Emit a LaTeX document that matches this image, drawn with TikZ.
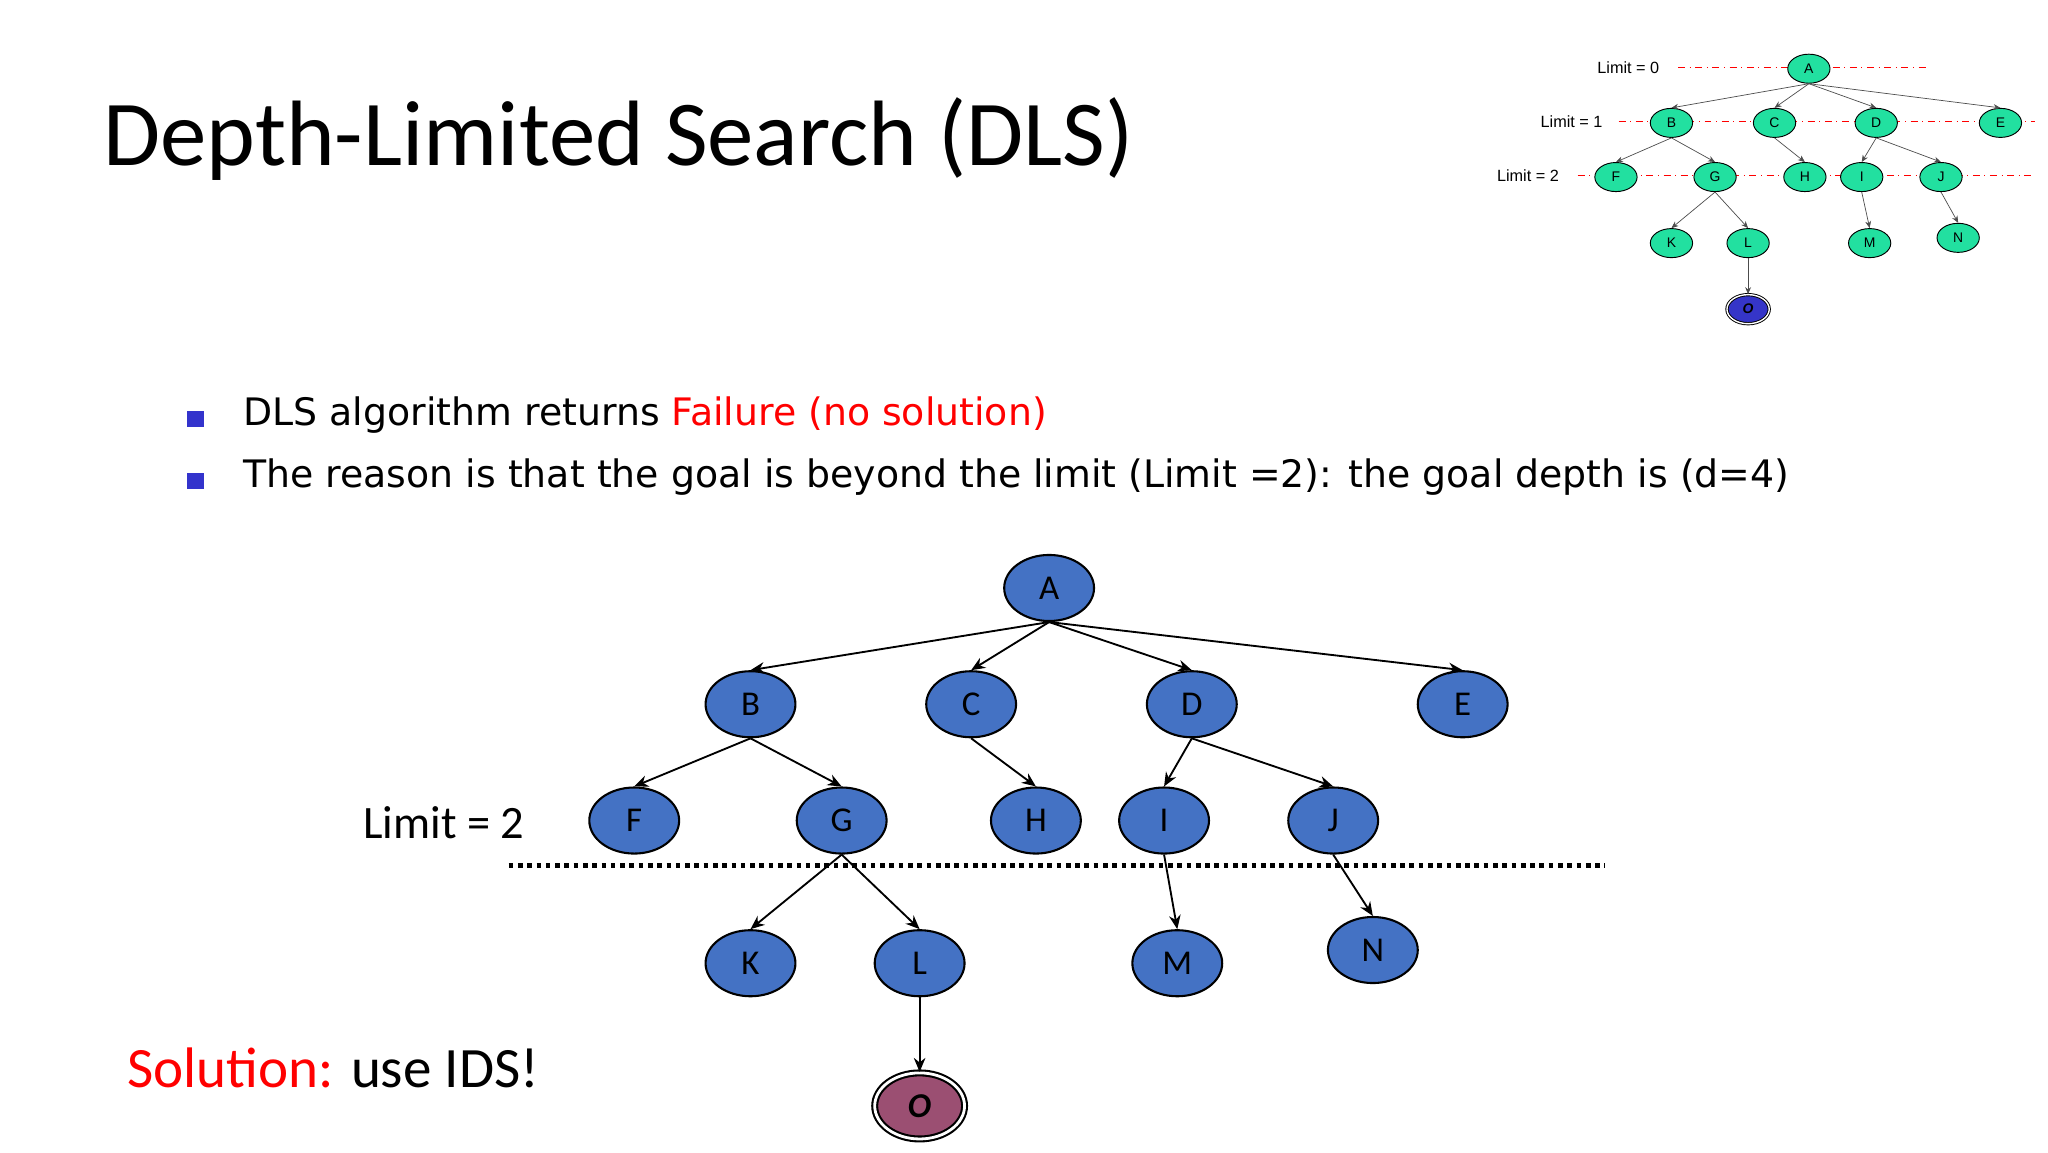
\documentclass[tikz,border=0pt]{standalone}
\usepackage{fontspec}
\setmainfont{Carlito}
\newfontfamily\bulletfont{DejaVu Sans}
\newfontfamily\arialfont{Liberation Sans}
\usetikzlibrary{arrows.meta}
\usetikzlibrary{shapes.geometric}
\definecolor{nodeblue}{HTML}{4472C4}
\definecolor{goalred}{HTML}{9B4F72}
\definecolor{smallgreen}{HTML}{22E0A0}
\definecolor{smallgoal}{HTML}{3535C8}
\definecolor{bulletblue}{HTML}{3333CC}
\definecolor{failred}{HTML}{FF0000}

\begin{document}
\begin{tikzpicture}[x=0.02cm, y=-0.02cm,
    bignode/.style={ellipse, draw, line width=0.9pt, fill=nodeblue,
        minimum width=68*0.02cm, minimum height=50*0.02cm, inner sep=0pt,
        font=\fontsize{15}{17}\selectfont},
    smallnode/.style={ellipse, draw, line width=0.4pt, fill=smallgreen,
        minimum width=32*0.02cm, minimum height=22*0.02cm, inner sep=0pt,
        font=\arialfont\fontsize{6}{7}\selectfont},
    bigedge/.style={-{Stealth[length=6pt,width=5pt]}, line width=0.8pt},
    smalledge/.style={-{Stealth[length=3pt,width=2.5pt]}, line width=0.3pt, black!70},
    limitline/.style={red, dash dot, line width=0.5pt},
    limitlbl/.style={anchor=east, font=\arialfont\fontsize{7}{8}\selectfont}
]

    \useasboundingbox[fill=white] (0,0) rectangle (1550,872);

    % Title
    \node[anchor=west, font=\fontsize{40}{46}\selectfont] (title) at (72,105) {Depth-Limited Search (DLS)};

    % Bullets
    \node[fill=bulletblue, minimum size=7pt, inner sep=0pt] (b1) at (148,317) {};
    \node[fill=bulletblue, minimum size=7pt, inner sep=0pt] (b2) at (148,364) {};
    \node[anchor=west, font=\bulletfont\fontsize{16.3}{20}\selectfont] (t1) at (178,314)
        {DLS algorithm returns \textcolor{failred}{Failure (no solution)}};
    \node[anchor=west, font=\bulletfont\fontsize{16.3}{20}\selectfont] (t2) at (178,361)
        {The reason is that the goal is beyond the limit (Limit =2): the goal depth is (d=4)};

    % Solution
    \node[anchor=west, font=\fontsize{24.6}{28}\selectfont] (sol) at (90,808)
        {\textcolor{failred}{Solution:} use IDS!};

    % Small tree
    \node[limitlbl] (l0) at (1262,51) {Limit = 0};
    \node[limitlbl] (l1) at (1219,92) {Limit = 1};
    \node[limitlbl] (l2) at (1186,133) {Limit = 2};
    \coordinate (l0e) at (1460,51);
    \coordinate (l1e) at (1540,92);
    \coordinate (l2e) at (1540,133);
    \draw[limitline] (l0.east) ++(8,0) -- (l0e);
    \draw[limitline] (l1.east) ++(6,0) -- (l1e);
    \draw[limitline] (l2.east) ++(8,0) -- (l2e);

    \foreach \n/\x/\y in {A/1369/52, B/1265/93, C/1343/93, D/1420/93, E/1514/93,
                          F/1223/134, G/1298/134, H/1366/134, I/1409/134, J/1469/134,
                          K/1265/184, L/1323/184, M/1415/184, N/1482/180}
        \node[smallnode] (s\n) at (\x,\y) {\n};
    \node[smallnode, fill=smallgoal, double, double distance=0.6pt] (sO) at (1323,234) {\textbf{\textit{O}}};

    \foreach \a/\b in {A/B, A/C, A/D, A/E, B/F, B/G, C/H, D/I, D/J, G/K, G/L, I/M, J/N, L/O}
        \draw[smalledge] (s\a.south) -- (s\b.north);

    % Main tree
    \node[anchor=east, font=\fontsize{20}{24}\selectfont] (lim) at (403,623) {Limit = 2};
    \coordinate (dl) at (385,655);
    \coordinate (dr) at (1215,655);
    \draw[dotted, line width=2pt] (dl) -- (dr);

    \foreach \n/\x/\y in {A/794/445, B/568/533, C/735/533, D/902/533, E/1107/533,
                          F/480/621, G/637/621, H/784/621, I/881/621, J/1009/621,
                          K/568/729, L/696/729, M/891/729, N/1039/719}
        \node[bignode] (\n) at (\x,\y) {\n};
    \node[bignode, fill=goalred, double, double distance=1.2pt] (O) at (696,837) {\textbf{\textit{O}}};

    \foreach \a/\b in {A/B, A/C, A/D, A/E, B/F, B/G, C/H, D/I, D/J, G/K, G/L, I/M, J/N, L/O}
        \draw[bigedge] (\a.south) -- (\b.north);

\end{tikzpicture}
\end{document}
